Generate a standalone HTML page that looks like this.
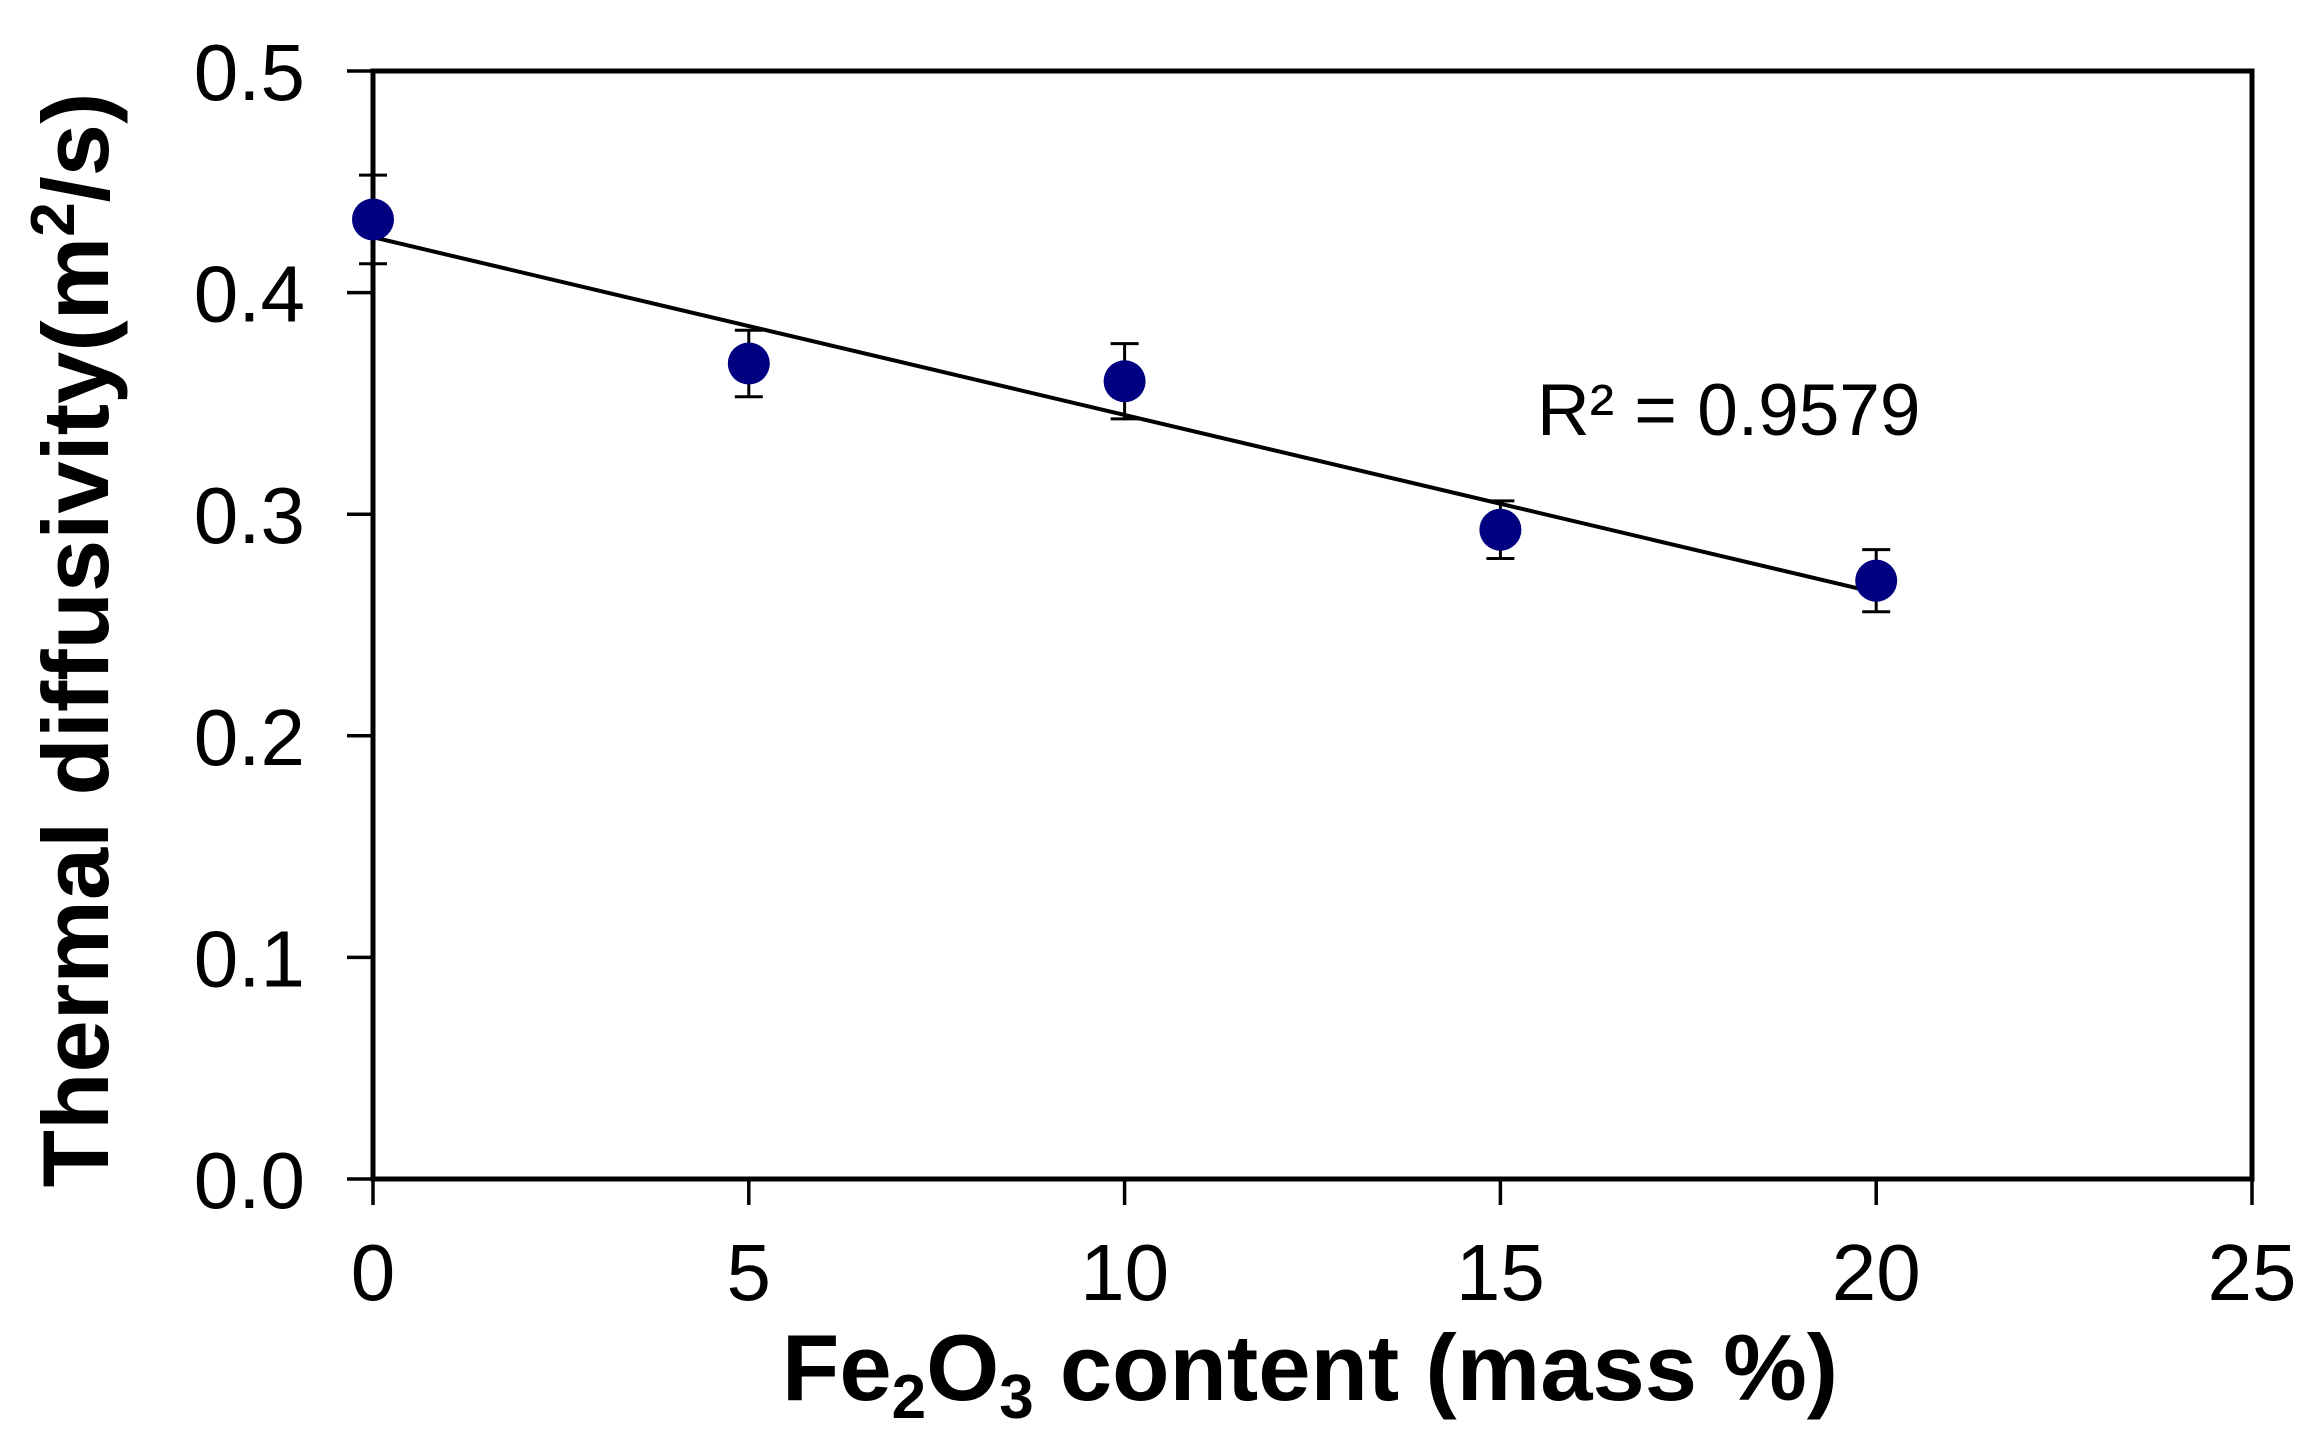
<!DOCTYPE html>
<html><head><meta charset="utf-8"><style>
html,body{margin:0;padding:0;background:#fff;}
svg{display:block;font-family:"Liberation Sans",Arial,sans-serif;}
</style></head><body>
<svg id="chart" width="2319" height="1446" viewBox="0 0 2319 1446" xmlns="http://www.w3.org/2000/svg"></svg>
<script>
const xValues = [0, 5, 10, 15, 20];
const yValues = [0.433, 0.368, 0.360, 0.293, 0.270];
const yErrors = [0.020, 0.015, 0.017, 0.013, 0.014];
const xTicks = [0, 5, 10, 15, 20, 25];
const yTicks = [0.0, 0.1, 0.2, 0.3, 0.4, 0.5];
const yTickLabels = ["0.0", "0.1", "0.2", "0.3", "0.4", "0.5"];
const r2Label = "R² = 0.9579";

const L = 373, R = 2252, T = 71, B = 1179;
const xMin = 0, xMax = 25, yMin = 0, yMax = 0.5;
const sx = v => L + (v - xMin) / (xMax - xMin) * (R - L);
const sy = v => B - (v - yMin) / (yMax - yMin) * (B - T);
const svg = document.getElementById('chart');
const NS = 'http://www.w3.org/2000/svg';
function mk(tag, attrs, parent) {
  const e = document.createElementNS(NS, tag);
  for (const k in attrs) e.setAttribute(k, attrs[k]);
  (parent || svg).appendChild(e);
  return e;
}

const frame = mk('rect', {x: L, y: T, width: R - L, height: B - T, fill: 'none', stroke: '#000', 'stroke-width': 5});



yTicks.forEach((v, i) => {
  const y = sy(v);
  const t = mk('line', {x1: L - 26, x2: L, y1: y, y2: y, stroke: '#000', 'stroke-width': 3.5});
  
  
  const lb = mk('text', {x: L - 68, y: y + 29, 'text-anchor': 'end', 'font-size': 80, fill: '#000'});
  lb.textContent = yTickLabels[i];
  
  
});
xTicks.forEach(v => {
  const x = sx(v);
  const t = mk('line', {x1: x, x2: x, y1: B, y2: B + 26, stroke: '#000', 'stroke-width': 3.5});
  
  
  const lb = mk('text', {x: x, y: 1300, 'text-anchor': 'middle', 'font-size': 80, fill: '#000'});
  lb.textContent = String(v);
  
  
});

const n = xValues.length;
const mx = xValues.reduce((a, b) => a + b, 0) / n;
const my = yValues.reduce((a, b) => a + b, 0) / n;
let sxy = 0, sxx = 0;
for (let i = 0; i < n; i++) { sxy += (xValues[i] - mx) * (yValues[i] - my); sxx += (xValues[i] - mx) ** 2; }
const slope = sxy / sxx, icpt = my - slope * mx;
const x0 = xValues[0], x1 = xValues[n - 1];
const tl = mk('line', {x1: sx(x0), y1: sy(icpt + slope * x0), x2: sx(x1), y2: sy(icpt + slope * x1), stroke: '#000', 'stroke-width': 4});



for (let i = 0; i < n; i++) {
  const x = sx(xValues[i]);
  const g = mk('g', {});
  
  
  const yt = sy(yValues[i] + yErrors[i]), yb = sy(yValues[i] - yErrors[i]);
  mk('line', {x1: x, x2: x, y1: yt, y2: yb, stroke: '#000', 'stroke-width': 3}, g);
  mk('line', {x1: x - 14, x2: x + 14, y1: yt, y2: yt, stroke: '#000', 'stroke-width': 3}, g);
  mk('line', {x1: x - 14, x2: x + 14, y1: yb, y2: yb, stroke: '#000', 'stroke-width': 3}, g);
}
for (let i = 0; i < n; i++) {
  const c = mk('circle', {cx: sx(xValues[i]), cy: sy(yValues[i]), r: 21, fill: '#000080'});
  
  
}

const r2 = mk('text', {x: 1537, y: 435, 'font-size': 73, fill: '#000'});
r2.textContent = r2Label;



const xt = mk('text', {x: 1310, y: 1400, 'text-anchor': 'middle', 'font-size': 94, 'font-weight': 'bold', fill: '#000'});
xt.innerHTML = 'Fe<tspan font-size="62" dy="18">2</tspan><tspan dy="-18">O</tspan><tspan font-size="62" dy="18">3</tspan><tspan dy="-18"> content (mass %)</tspan>';



const yt = mk('text', {x: 0, y: 0, 'text-anchor': 'middle', 'font-size': 94, 'font-weight': 'bold', fill: '#000', transform: 'translate(108,640) rotate(-90)'});
yt.innerHTML = 'Thermal diffusivity(m<tspan font-size="62" dy="-34">2</tspan><tspan dy="34">/s)</tspan>';


</script>
</body></html>
